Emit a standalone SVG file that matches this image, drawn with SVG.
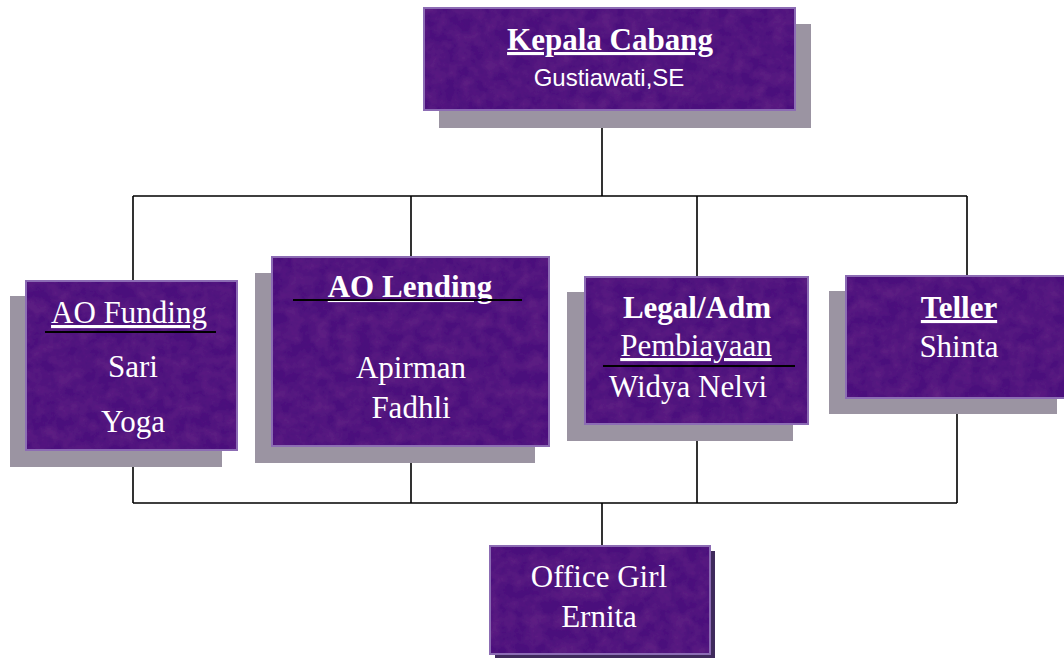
<svg xmlns="http://www.w3.org/2000/svg" width="1064" height="658" viewBox="0 0 1064 658">
<defs>
<filter id="tex" x="0" y="0" width="1" height="1">
<feTurbulence type="fractalNoise" baseFrequency="0.07" numOctaves="4" seed="11" result="n"/>
<feColorMatrix in="n" type="matrix" values="0 0 0 0 0.14  0 0 0 0 0.02  0 0 0 0 0.24  1.1 0 0 0 -0.3" result="c"/>
<feComposite in="c" in2="SourceGraphic" operator="in"/>
</filter>
<style>
.box{fill:#4a0f7c;stroke:#8c6cb4;stroke-width:2}
.noise{fill:#000;filter:url(#tex)}
.shadow{fill:#9b94a2}
.con{stroke:#000;stroke-width:1.6;fill:none}
.bar{stroke:#000;stroke-width:2}
.t{font-family:"Liberation Serif","Times New Roman",serif;font-size:31px;fill:#fff;text-anchor:middle}
.b{font-weight:bold}
.u{text-decoration:underline}
.s{font-family:"Liberation Sans",Arial,sans-serif;font-size:24px;fill:#fff;text-anchor:middle}
</style>
</defs>
<rect width="1064" height="658" fill="#fff"/>
<g id="connectors">
<path class="con" d="M602 110V196M133 196H967M133 196V281M411 196V257M697 196V277M967 196V276"/>
<path class="con" d="M133 450V503M411 446V503M697 424V503M957 398V503M133 503H957M602 503V546"/>
</g>
<g id="kepala">
<rect class="shadow" x="439" y="24" width="372" height="104"/>
<rect class="box" x="424" y="8" width="371" height="102"/>
<rect class="noise" x="425" y="9" width="369" height="100"/>
<text class="t b u" x="610" y="50">Kepala Cabang</text>
<text class="s" x="609" y="86">Gustiawati,SE</text>
</g>
<g id="ao-funding">
<rect class="shadow" x="10" y="296" width="212" height="171"/>
<rect class="box" x="26" y="281" width="211" height="169"/>
<rect class="noise" x="27" y="282" width="209" height="167"/>
<text class="t u" x="129" y="323">AO Funding</text>
<line class="bar" x1="45" y1="332" x2="216" y2="332"/>
<text class="t" x="133" y="377">Sari</text>
<text class="t" x="133" y="432">Yoga</text>
</g>
<g id="ao-lending">
<rect class="shadow" x="255" y="273" width="280" height="190"/>
<rect class="box" x="272" y="257" width="277" height="189"/>
<rect class="noise" x="273" y="258" width="275" height="187"/>
<text class="t b u" x="410" y="297">AO Lending</text>
<line class="bar" x1="293" y1="300" x2="522" y2="300"/>
<text class="t" x="411" y="378">Apirman</text>
<text class="t" x="411" y="418">Fadhli</text>
</g>
<g id="legal">
<rect class="shadow" x="567" y="292" width="226" height="149"/>
<rect class="box" x="585" y="277" width="223" height="147"/>
<rect class="noise" x="586" y="278" width="221" height="145"/>
<text class="t b" x="697" y="318">Legal/Adm</text>
<text class="t u" x="696" y="356">Pembiayaan</text>
<line class="bar" x1="603" y1="366" x2="795" y2="366"/>
<text class="t" x="688" y="397">Widya Nelvi</text>
</g>
<g id="teller">
<rect class="shadow" x="829" y="291" width="228" height="123"/>
<rect class="box" x="846" y="276" width="222" height="122"/>
<rect class="noise" x="847" y="277" width="220" height="120"/>
<text class="t b u" x="959" y="318">Teller</text>
<text class="t" x="959" y="357">Shinta</text>
</g>
<g id="office-girl">
<rect fill="#3f2a5c" x="495" y="551" width="220" height="108"/>
<rect class="box" x="490" y="546" width="220" height="108"/>
<rect class="noise" x="491" y="547" width="218" height="106"/>
<text class="t" x="599" y="587">Office Girl</text>
<text class="t" x="599" y="627">Ernita</text>
</g>
</svg>
